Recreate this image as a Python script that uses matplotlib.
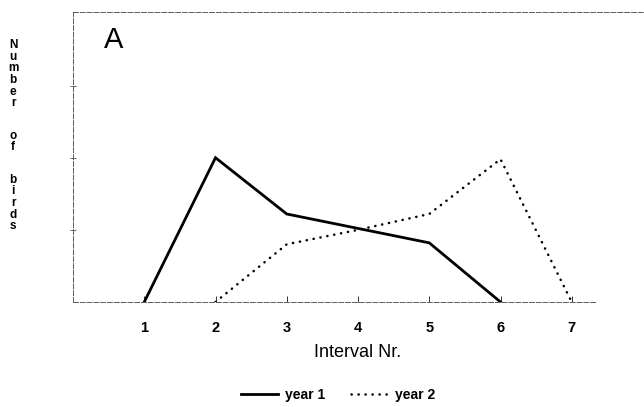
import matplotlib.pyplot as plt

plt.rcParams['font.family'] = ['Liberation Sans', 'DejaVu Sans']

# Data (y scale has no labels, peak ~ 10)
intervals_y1 = [1, 2, 3, 4, 5, 6]
birds_y1 = [0, 10, 6.1, 5.1, 4.1, 0]
intervals_y2 = [2, 3, 4, 5, 6, 7]
birds_y2 = [0, 4.0, 5.0, 6.1, 9.9, 0]
xtick_vals = [1, 2, 3, 4, 5, 6, 7]
ytick_vals = [5, 10, 15]

W, H = 644, 407
fig = plt.figure(figsize=(W / 100, H / 100), dpi=100)
ax = fig.add_axes([73 / W, 1 - 302 / H, (643 - 73) / W, (302 - 12) / H])

ax.plot(intervals_y1, birds_y1, color='black', lw=2.0, label='year 1',
        solid_joinstyle='miter')
ax.plot(intervals_y2, birds_y2, color='black', lw=1.8, label='year 2',
        linestyle=(0, (0.1, 2.7)), dash_capstyle='round')

ax.set_xlim(0, 8)
ax.set_ylim(0, 20.1)

# scanned axes: thin broken lines, no right spine
ax.spines['right'].set_visible(False)
for side in ['left', 'bottom', 'top']:
    ax.spines[side].set_linestyle((0, (5, 2)))
    ax.spines[side].set_linewidth(0.7)
    ax.spines[side].set_color('0.35')
ax.spines['bottom'].set_bounds(0, 7.35)

ax.set_xticks(xtick_vals)
ax.set_xticklabels([str(v) for v in xtick_vals], fontsize=10.5, fontweight='bold')
ax.tick_params(axis='x', direction='in', length=4, width=0.7, pad=14, colors='0.2')
ax.set_yticks(ytick_vals)
ax.set_yticklabels([])
ax.tick_params(axis='y', direction='inout', length=5, width=0.7, colors='0.4')
for lbl in ax.get_xticklabels():
    lbl.set_color('black')

ax.set_xlabel('Interval Nr.', fontsize=13, labelpad=6)

ax.text(0.055, 0.905, 'A', transform=ax.transAxes, fontsize=21,
        ha='left', va='center')

# stacked vertical y label, one letter per row
ylab = 'Number of birds'
y = 45
for ch in ylab:
    if ch == ' ':
        y += 20.5
        continue
    fig.text(13 / W, 1 - y / H, ch, fontsize=8.5, fontweight='bold',
             ha='center', va='center')
    y += 11.7

fig.legend(loc='center', bbox_to_anchor=(338 / W, 1 - 395 / H), ncol=2,
           frameon=False, handlelength=2.7, columnspacing=1.8,
           handletextpad=0.5, prop={'weight': 'bold', 'size': 10})

fig.savefig('out.png', dpi=100)
